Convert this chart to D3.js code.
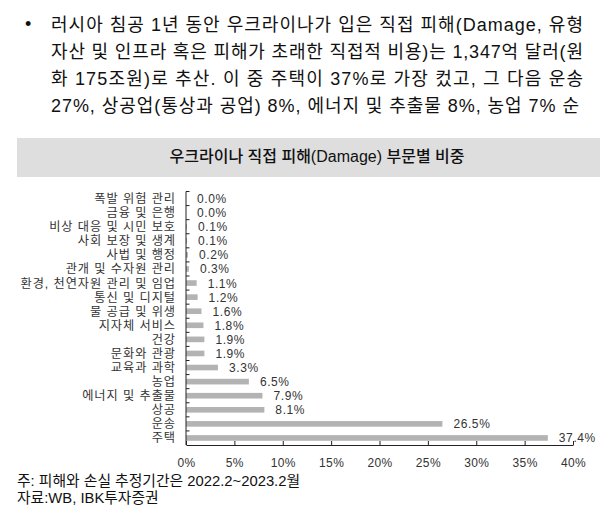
<!DOCTYPE html>
<html><head><meta charset="utf-8">
<script src="https://cdn.jsdelivr.net/npm/d3@7"></script>
<style>
body{margin:0;background:#fff;}
svg{display:block;}
text{font-family:"Liberation Sans","Noto Sans CJK KR",sans-serif;}
</style></head>
<body>
<svg id="c" width="613" height="514"></svg>
<script>
const categories = ["폭발 위험 관리","금융 및 은행","비상 대응 및 시민 보호","사회 보장 및 생계","사법 및 행정","관개 및 수자원 관리","환경, 천연자원 관리 및 임업","통신 및 디지털","물 공급 및 위생","지자체 서비스","건강","문화와 관광","교육과 과학","농업","에너지 및 추출물","상공","운송","주택"];
const values = [0.0,0.0,0.1,0.1,0.2,0.3,1.1,1.2,1.6,1.8,1.9,1.9,3.3,6.5,7.9,8.1,26.5,37.4];
const xTicks = [0,5,10,15,20,25,30,35,40];
const paragraph = [
 "러시아 침공 1년 동안 우크라이나가 입은 직접 피해(Damage, 유형",
 "자산 및 인프라 혹은 피해가 초래한 직접적 비용)는 1,347억 달러(원",
 "화 175조원)로 추산. 이 중 주택이 37%로 가장 컸고, 그 다음 운송",
 "27%, 상공업(통상과 공업) 8%, 에너지 및 추출물 8%, 농업 7% 순"
];
const title = "우크라이나 직접 피해(Damage) 부문별 비중";
const notes = ["주: 피해와 손실 추정기간은 2022.2~2023.2월","자료:WB, IBK투자증권"];

const svg = d3.select("#c");

// paragraph
svg.append("text").attr("x",25).attr("y",30).attr("font-size",18).attr("fill","#111").text("•");
const lineEnds=[583,583,583,579];
paragraph.forEach((t,i)=>{
  svg.append("text").attr("x",51).attr("y",30.5+i*27.3)
    .attr("font-size",18).attr("fill","#111")
    .attr("textLength",lineEnds[i]-51).attr("lengthAdjust","spacing")
    .text(t);
});

// title bar
svg.append("rect").attr("x",17).attr("y",138).attr("width",583).attr("height",39).attr("fill","#dedede");
svg.append("text").attr("x",317).attr("y",162).attr("text-anchor","middle")
  .attr("font-size",16).attr("font-weight",500).attr("fill","#111").text(title);

// scales
const x = d3.scaleLinear().domain([0,40]).range([186,573]);
const y = d3.scaleBand().domain(categories).range([191.5,445]).paddingInner(0.6).paddingOuter(0.3);

// bars
svg.append("g").selectAll("rect").data(categories).join("rect")
  .attr("x",x(0)).attr("y",(d)=>y(d))
  .attr("width",(d,i)=>x(values[i])-x(0))
  .attr("height",y.bandwidth()).attr("fill","#b3b3b3");

// value labels
svg.append("g").selectAll("text").data(categories).join("text")
  .attr("x",(d,i)=>x(values[i])+11)
  .attr("y",(d)=>y(d)+y.bandwidth()/2+4.5)
  .attr("font-size",12).attr("letter-spacing",0.6).attr("fill","#333")
  .text((d,i)=>values[i].toFixed(1)+"%");

// category labels
svg.append("g").selectAll("text").data(categories).join("text")
  .attr("x",176).attr("y",(d)=>y(d)+y.bandwidth()/2+4.5)
  .attr("text-anchor","end")
  .attr("font-size",12.2).attr("letter-spacing",0.95).attr("fill","#333")
  .text(d=>d);

// y axis line + ticks at boundaries
const step = y.step();
const yTop = 191.5, yBot = 445;
svg.append("line").attr("x1",186).attr("x2",186).attr("y1",yTop).attr("y2",yBot).attr("stroke","#222");
const bounds = d3.range(categories.length).map(i=>yTop+i*step);
svg.append("g").selectAll("line").data(bounds).join("line")
  .attr("x1",186).attr("x2",189.5).attr("y1",d=>d).attr("y2",d=>d).attr("stroke","#222");

// x axis
const xa = svg.append("g").attr("transform",`translate(0,${yBot})`)
  .call(d3.axisBottom(x).tickValues(xTicks).tickSize(-4).tickFormat(d=>d+"%").tickSizeOuter(0));
xa.select(".domain").attr("stroke","#222");
xa.selectAll(".tick line").attr("stroke","#222");
xa.selectAll(".tick text").attr("font-size",12).attr("fill","#333")
  .attr("font-family","Liberation Sans, Noto Sans CJK KR, sans-serif")
  .attr("letter-spacing",0.4).attr("dy","1.55em");

// notes
notes.forEach((t,i)=>{
  svg.append("text").attr("x",17).attr("y",486+i*16.5).attr("font-size",14.8).attr("fill","#111").text(t);
});
</script>
</body></html>
